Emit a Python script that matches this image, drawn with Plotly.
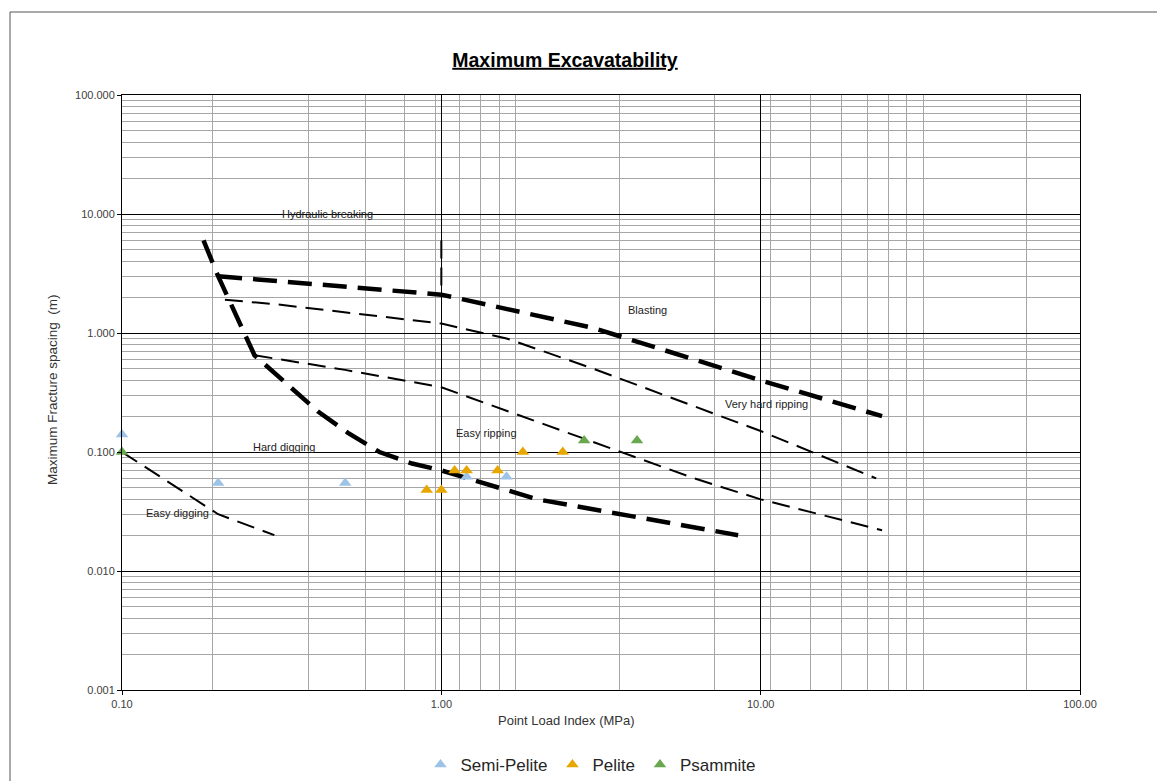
import numpy as np
import plotly.graph_objects as go

# Measured samples: point load index (MPa) vs maximum fracture spacing (m)
semi_pelite_x = [0.1, 0.2, 0.5, 1.2, 1.6]
semi_pelite_y = [0.14, 0.055, 0.055, 0.062, 0.062]
pelite_x = [0.9, 1.0, 1.1, 1.2, 1.5, 1.8, 2.4]
pelite_y = [0.048, 0.048, 0.07, 0.07, 0.07, 0.1, 0.1]
psammite_x = [0.1, 2.8, 4.1]
psammite_y = [0.1, 0.125, 0.125]

# Excavatability zone boundaries
easy_digging_x = [0.1, 0.2, 0.3]
easy_digging_y = [0.1, 0.03, 0.02]
digging_limit_x = [0.18, 0.2, 0.26, 0.32, 0.41, 0.51, 0.64, 0.81, 1.0, 2.0, 8.5]
digging_limit_y = [6.0, 3.0, 0.65, 0.40, 0.22, 0.145, 0.10, 0.08, 0.07, 0.04, 0.02]
blasting_x = [0.2, 1.0, 3.0, 10.0, 24.0]
blasting_y = [3.0, 2.1, 1.1, 0.4, 0.2]
very_hard_x = [0.21, 0.3, 1.0, 1.6, 3.0, 10.0, 23.0]
very_hard_y = [1.9, 1.75, 1.2, 0.9, 0.5, 0.15, 0.06]
hard_ripping_x = [0.26, 0.5, 1.0, 6.2, 10.0, 24.0]
hard_ripping_y = [0.65, 0.49, 0.35, 0.06, 0.04, 0.022]
hydraulic_x = [1.0, 1.0]
hydraulic_y = [6.0, 2.1]

# Zone names and where they are written
zone_names = ["Hydraulic breaking", "Blasting", "Very hard ripping",
              "Easy ripping", "Hard digging", "Easy digging"]
zone_x = [0.44, 4.43, 10.4, 1.38, 0.321, 0.149]
zone_y = [10.0, 1.56, 0.253, 0.1445, 0.110, 0.0307]

# Axis ticks
x_ticks = [0.1, 1, 10, 100]
x_tick_text = ["0.10", "1.00", "10.00", "100.00"]
y_ticks = [0.001, 0.01, 0.1, 1, 10, 100]
y_tick_text = ["0.001", "0.010", "0.100", "1.000", "10.000", "100.000"]
x_minor_grid = [0.192, 0.384, 0.578, 0.767, 0.962,
                1.144, 1.325, 1.519, 1.713, 3.607, 7.19,
                10.76, 14.37, 17.97, 21.6, 25.1, 28.6, 32.3, 67.9]
y_minor_grid = [k * 10.0 ** e for e in range(-3, 2) for k in range(2, 10)]

FONT = "Arial, 'Liberation Sans', sans-serif"
W, H = 1157, 781
L, R, T, B = 122, 1080, 95, 690

fig = go.Figure()

thick = dict(color="black", width=4.5, dash="24px,11px")
thin = dict(color="black", width=2, dash="18px,9px")

for xs, ys, ln in [
    (easy_digging_x, easy_digging_y, thin),
    (digging_limit_x, digging_limit_y, thick),
    (blasting_x, blasting_y, thick),
    (very_hard_x, very_hard_y, thin),
    (hard_ripping_x, hard_ripping_y, thin),
    (hydraulic_x, hydraulic_y, thin),
]:
    fig.add_trace(go.Scatter(x=xs, y=ys, mode="lines", line=ln,
                             showlegend=False, hoverinfo="skip"))

for name, xs, ys, col in [
    ("Semi-Pelite", semi_pelite_x, semi_pelite_y, "#9DC3E6"),
    ("Pelite", pelite_x, pelite_y, "#E8A600"),
    ("Psammite", psammite_x, psammite_y, "#6AA84F"),
]:
    fig.add_trace(go.Scatter(x=xs, y=ys, mode="markers", name=name, cliponaxis=False,
                             marker=dict(symbol="triangle-up", size=11, color=col,
                                         line=dict(width=0))))

for txt, zx, zy in zip(zone_names, zone_x, zone_y):
    fig.add_annotation(x=np.log10(zx), y=np.log10(zy), xref="x", yref="y",
                       text=txt, showarrow=False,
                       font=dict(family=FONT, size=11, color="#222222"))

# axis titles
fig.add_annotation(x=(566 - L) / (R - L), y=(B - 720) / (B - T), xref="paper", yref="paper",
                   text="Point Load Index (MPa)", showarrow=False, yanchor="middle",
                   font=dict(family=FONT, size=13, color="#333333"))
fig.add_annotation(x=(52 - L) / (R - L), y=(B - 390) / (B - T), xref="paper", yref="paper",
                   text="Maximum Fracture spacing  (m)", showarrow=False, textangle=-90,
                   xanchor="center", yanchor="middle",
                   font=dict(family=FONT, size=13.5, color="#333333"))

# chart area border
fig.add_shape(type="rect", xref="paper", yref="paper",
              x0=(10 - L) / (R - L), x1=(W + 20 - L) / (R - L),
              y0=(B - (H + 20)) / (B - T), y1=(B - 12) / (B - T),
              line=dict(color="#555555", width=1), layer="below")

axis_common = dict(
    type="log", showline=True, mirror=True, linecolor="black", linewidth=1,
    ticks="outside", ticklen=4, tickcolor="black",
    gridcolor="black", gridwidth=1, zeroline=False,
    tickfont=dict(family=FONT, size=11, color="#404040"),
)

fig.update_xaxes(range=[-1, 2], tickmode="array", tickvals=x_ticks, ticktext=x_tick_text,
                 minor=dict(tickmode="array", tickvals=x_minor_grid, showgrid=True,
                            gridcolor="#A6A6A6", gridwidth=1, ticks=""),
                 **axis_common)
fig.update_yaxes(range=[-3, 2], tickmode="array", tickvals=y_ticks, ticktext=y_tick_text,
                 minor=dict(tickmode="array", tickvals=y_minor_grid, showgrid=True,
                            gridcolor="#A6A6A6", gridwidth=1, ticks=""),
                 **axis_common)

fig.update_layout(
    width=W, height=H,
    margin=dict(l=L, r=W - R, t=T, b=H - B, autoexpand=False),
    paper_bgcolor="white", plot_bgcolor="white",
    title=dict(text="<b>Maximum Excavatability</b>", x=565 / W, xref="container", xanchor="center",
               y=1 - 60 / H, yref="container", yanchor="middle",
               font=dict(family=FONT, size=19.5, color="black", lineposition="under")),
    legend=dict(orientation="h", x=(591 - L) / (R - L), xanchor="center",
                y=(B - 765) / (B - T), yanchor="middle",
                font=dict(family=FONT, size=17, color="#262626"),
                bgcolor="rgba(0,0,0,0)"),
    showlegend=True,
)

fig.write_html("out.html")
